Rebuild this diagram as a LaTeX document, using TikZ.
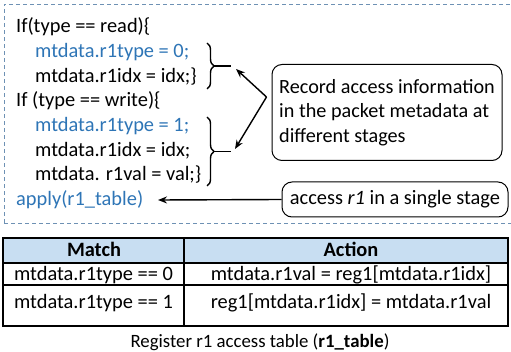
\documentclass[tikz,border=0pt]{standalone}
\usepackage{fontspec}
\setmainfont{Carlito}
\usetikzlibrary{decorations.pathreplacing,arrows.meta}
\definecolor{codeblue}{RGB}{46,117,182}
\definecolor{dashc}{RGB}{110,145,180}
\definecolor{headfill}{RGB}{200,222,242}
\begin{document}
\begin{tikzpicture}[x=1pt,y=-1pt,
  txt/.style={inner sep=0pt,font=\fontsize{20.4}{24.6}\selectfont},
  code/.style={txt,anchor=base west},
  bcode/.style={code,text=codeblue},
  cell/.style={txt,anchor=base},
  arr/.style={-{Stealth[length=9pt,width=7pt]},line width=1.4pt},
  bracestyle/.style={decorate,decoration={brace,amplitude=7pt},line width=1.4pt},
  callout/.style={draw,line width=1pt,rounded corners=10pt,txt}]
\useasboundingbox (0,0) rectangle (511,352);
% dashed frame
\draw[dashc,dashed,dash pattern=on 4pt off 3pt,line width=0.9pt] (4,223) -- (4,4) -- (515,4);
\draw[dashc,dashed,dash pattern=on 4pt off 3pt,line width=0.9pt] (4,223) -- (515,223);
% code
\node[code] (c1) at (16,33) {If(type == read)\{};
\node[bcode] (c2) at (35,57.7) {mtdata.r1type = 0;};
\node[code] (c3) at (35,82.4) {mtdata.r1idx = idx;\}};
\node[code] (c4) at (16,107) {If (type == write)\{};
\node[bcode] (c5) at (35,131.8) {mtdata.r1type = 1;};
\node[code] (c6) at (35,156.5) {mtdata.r1idx = idx;};
\node[code] (c7) at (35,181) {mtdata. r1val = val;\}};
\node[bcode] (c8) at (16,206) {apply(r1\_table)};
% braces
\draw[bracestyle] (207,43) -- (207,89);
\draw[line width=1.4pt] (212.5,66) -- (231,66) coordinate (b1);
\draw[bracestyle] (207,117) -- (207,186);
\draw[line width=1.4pt] (212.5,151.5) -- (231,151.5) coordinate (b2);
% callouts
\node[callout,minimum width=230pt,minimum height=96pt,align=left,font=\fontsize{20.2}{24.5}\selectfont] (rec) at (387,112.5)
  {Record access information\\in the packet metadata at\\different stages};
\node[callout,minimum width=226pt,minimum height=35pt] (acc) at (395,199.5)
  {access \textit{r1} in a single stage};
\coordinate (apex) at (266.5,97);
\coordinate (applyend) at (158,200);
\draw[arr] (apex) -- ([shift={(5,3)}]b1);
\draw[arr] (apex) -- ([shift={(4,-2.5)}]b2);
\draw[arr] (acc.west) -- (applyend);
% table
\fill[headfill] (3,238) rectangle (508,263);
\draw[line width=1.2pt] (3,238) rectangle (508,326);
\draw[line width=1.2pt] (3,263) -- (508,263);
\draw[line width=1.2pt] (3,285) -- (508,285);
\draw[line width=1.2pt] (184,238) -- (184,326);
\node[cell] (h1) at (94,257) {\textbf{Match}};
\node[cell] (h2) at (351,257) {\textbf{Action}};
\node[cell] (m1) at (93.5,281) {mtdata.r1type == 0};
\node[cell] (a1) at (351,281) {mtdata.r1val = reg1[mtdata.r1idx]};
\node[cell] (m2) at (93.5,309) {mtdata.r1type == 1};
\node[cell] (a2) at (351,309) {reg1[mtdata.r1idx] = mtdata.r1val};
\node[cell,font=\fontsize{18.8}{22}\selectfont] (cap) at (260,347.5) {Register r1 access table (\textbf{r1\_table})};
\end{tikzpicture}
\end{document}
